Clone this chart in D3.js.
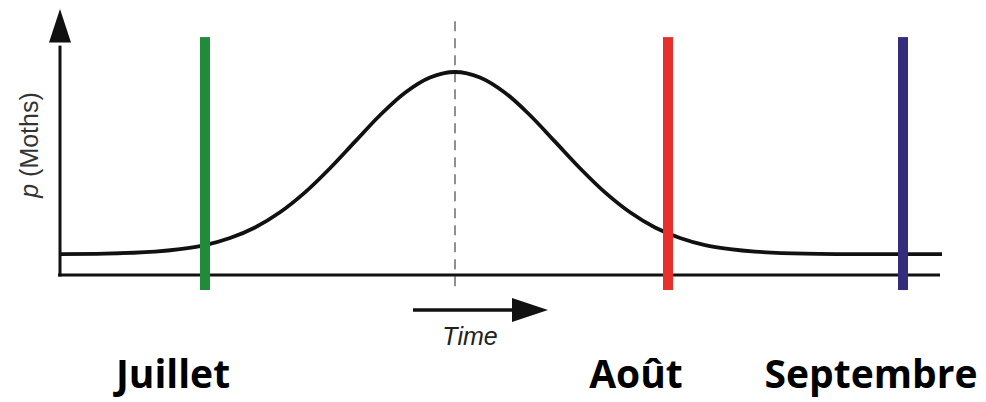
<!DOCTYPE html>
<html lang="fr">
<head>
<meta charset="utf-8">
<title>p (Moths) vs Time</title>
<script src="https://d3js.org/d3.v7.min.js"></script>
<style>
  body { margin: 0; background: #fff; }
  svg { display: block; }
</style>
</head>
<body>
<script>
// curve (time units, moth level)
var timeVals = [0, 4.5, 9.5, 12, 14.5, 17, 19.5, 22, 24.5, 27, 29.5, 32, 34.5, 37, 39.5,
                42, 44.5, 47, 49.5, 52, 54.5, 57, 59.5, 62, 64.5, 67, 69.5, 74.5, 88.2];
var mothVals = [10.3, 10.5, 11.5, 12.7, 14.7, 18.2, 23.4, 30.9, 40.7, 52.6, 65.7, 78.7, 89.8, 97.3, 100,
                97.3, 89.8, 78.7, 65.7, 52.6, 40.7, 30.9, 23.4, 18.2, 14.7, 12.7, 11.5, 10.5, 10.3];

// month markers
var months = ["Juillet", "Août", "Septembre"];
var monthTimes = [14.5, 60.8, 84.3];
var monthColors = ["#1f8b3b", "#e8302a", "#342c7c"];

var peakTime = 39.5;

var W = 986, H = 402;

var x = d3.scaleLinear().domain([0, 88]).range([60, 940]);
var y = d3.scaleLinear().domain([0, 100]).range([275, 72]);

var svg = d3.select("body").append("svg")
    .attr("width", W)
    .attr("height", H);

// dashed line through the peak
svg.append("line")
    .attr("x1", x(peakTime)).attr("x2", x(peakTime))
    .attr("y1", y(125)).attr("y2", y(-7))
    .attr("stroke", "#555")
    .attr("stroke-width", 1.3)
    .attr("stroke-dasharray", "10,7");

// x axis
svg.append("line")
    .attr("x1", x(0) - 2).attr("x2", x(88))
    .attr("y1", y(0)).attr("y2", y(0))
    .attr("stroke", "#111")
    .attr("stroke-width", 3);

// y axis with arrow
svg.append("line")
    .attr("x1", x(0)).attr("x2", x(0))
    .attr("y1", y(0) + 1.5).attr("y2", y(113))
    .attr("stroke", "#111")
    .attr("stroke-width", 3);
svg.append("path")
    .attr("d", d3.line()([[x(0) - 11, y(114.5)], [x(0), y(131)], [x(0) + 11, y(114.5)]]) + "Z")
    .attr("fill", "#111");

// the curve
var pts = timeVals.map(function(t, i) { return [t, mothVals[i]]; });
svg.append("path")
    .datum(pts)
    .attr("d", d3.line()
        .x(function(d) { return x(d[0]); })
        .y(function(d) { return y(d[1]); })
        .curve(d3.curveCatmullRom))
    .attr("fill", "none")
    .attr("stroke", "#111")
    .attr("stroke-width", 3.8);

// coloured month bars
svg.selectAll("rect.bar")
    .data(months)
    .enter()
    .append("rect")
    .attr("class", "bar")
    .attr("x", function(d, i) { return x(monthTimes[i]) - 5; })
    .attr("y", y(117.2))
    .attr("width", 10)
    .attr("height", y(-7.4) - y(117.2))
    .attr("fill", function(d, i) { return monthColors[i]; });

// month names
svg.selectAll("text.month")
    .data(months)
    .enter()
    .append("text")
    .attr("class", "month")
    .attr("x", function(d, i) { return x(monthTimes[i]) - 32; })
    .attr("y", 388)
    .attr("text-anchor", "middle")
    .attr("font-family", "'Open Sans', sans-serif")
    .attr("font-weight", 700)
    .attr("font-size", "39px")
    .attr("fill", "#000")
    .text(function(d) { return d; });

// time arrow
svg.append("line")
    .attr("x1", 413).attr("x2", 515)
    .attr("y1", 310).attr("y2", 310)
    .attr("stroke", "#111")
    .attr("stroke-width", 3.5);
svg.append("path")
    .attr("d", "M512,298 L548,310 L512,322 Z")
    .attr("fill", "#111");

svg.append("text")
    .attr("x", 470)
    .attr("y", 345)
    .attr("text-anchor", "middle")
    .attr("font-family", "'Liberation Sans', Arial, sans-serif")
    .attr("font-style", "italic")
    .attr("font-size", "25px")
    .attr("fill", "#222")
    .text("Time");

// y label
var ylab = svg.append("text")
    .attr("transform", "translate(38,145) rotate(-90)")
    .attr("text-anchor", "middle")
    .attr("font-family", "'Liberation Sans', Arial, sans-serif")
    .attr("font-size", "25px")
    .attr("fill", "#333");
ylab.append("tspan").attr("font-style", "italic").text("p");
ylab.append("tspan").text(" (Moths)");
</script>
</body>
</html>
